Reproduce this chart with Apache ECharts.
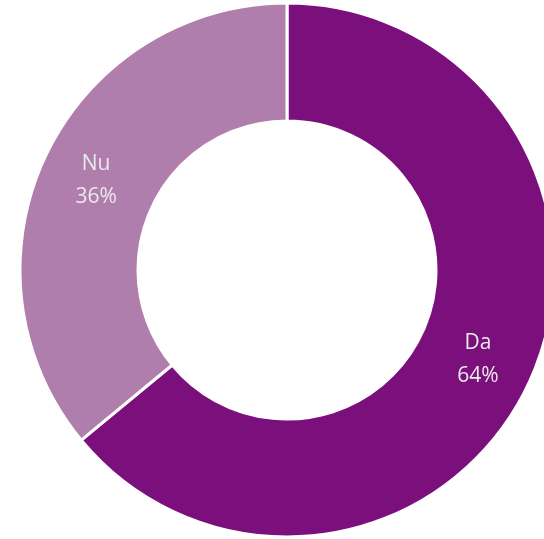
<!DOCTYPE html>
<html>
<head>
<meta charset="utf-8">
<script src="https://cdn.jsdelivr.net/npm/echarts@6/dist/echarts.min.js"></script>
<style>
  html, body { margin: 0; padding: 0; background: #fff; }
  #chart { width: 544px; height: 539px; }
</style>
</head>
<body>
<div id="chart"></div>
<script>
var categories = ['Da', 'Nu'];
var values = [64, 36];
var colors = ['#7B0F7C', '#B07EAC'];

var myChart = echarts.init(document.getElementById('chart'));

var data = categories.map(function (c, i) {
  return { name: c, value: values[i], itemStyle: { color: colors[i] } };
});

var option = {
  animation: false,
  series: [
    {
      type: 'pie',
      center: [287, 270],
      radius: [149, 267],
      startAngle: 90,
      clockwise: true,
      itemStyle: { borderColor: '#fff', borderWidth: 3 },
      label: {
        show: true,
        position: 'inside',
        color: '#EAEAEA',
        fontFamily: 'Open Sans',
        fontSize: 21,
        lineHeight: 33,
        formatter: function (p) { return p.name + '\n' + p.value + '%'; }
      },
      labelLine: { show: false },
      data: data
    }
  ]
};

myChart.setOption(option);
</script>
</body>
</html>
